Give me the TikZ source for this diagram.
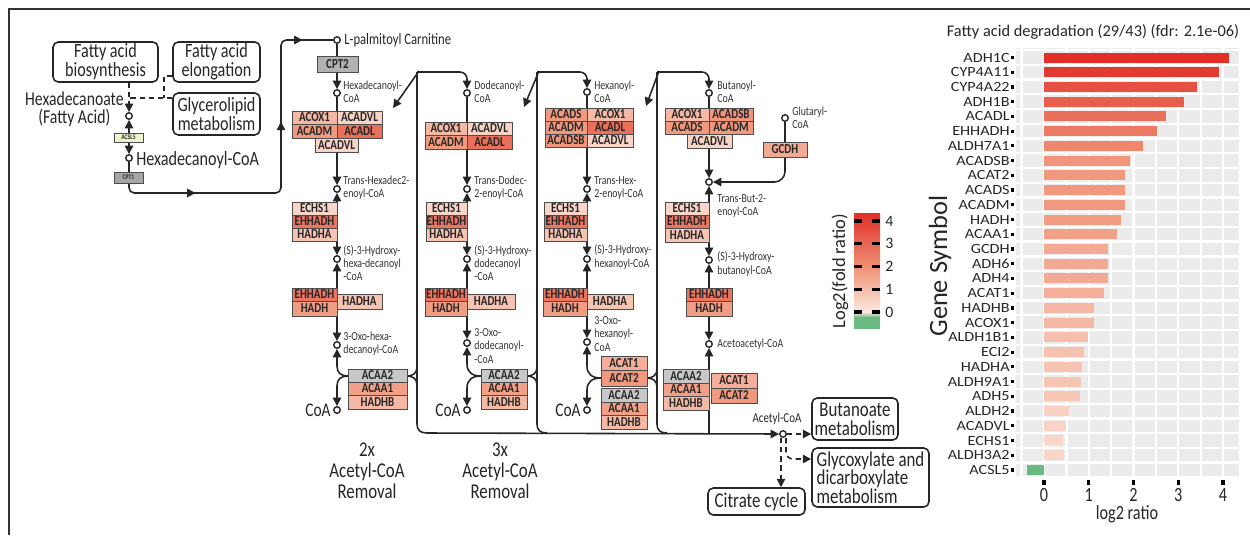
\documentclass[tikz,border=0pt]{standalone}
\usepackage{fontspec}
\setmainfont{Carlito}[FakeStretch=0.8]
\newfontfamily\wfont{Carlito}[FakeStretch=1.15]
\newfontfamily\nfont{Carlito}
\usetikzlibrary{arrows.meta,decorations.markings}
\newcommand\mkgc[2]{%
 \pgfmathsetmacro\mkta{min(#2,2)/2}%
 \pgfmathsetmacro\mktb{max(#2-2,0)/2.15}%
 \pgfmathtruncatemacro\mkR{252-12*\mkta-16*\mktb}%
 \pgfmathtruncatemacro\mkG{234-89*\mkta-97*\mktb}%
 \pgfmathtruncatemacro\mkB{224-106*\mkta-78*\mktb}%
 \definecolor{#1}{RGB}{\mkR,\mkG,\mkB}}
\mkgc{cACOX1}{1.12}
\mkgc{cACADVL}{0.49}
\mkgc{cACADM}{1.82}
\mkgc{cACADL}{2.73}
\mkgc{cACADS}{1.82}
\mkgc{cACADSB}{1.92}
\mkgc{cECHS1}{0.43}
\mkgc{cEHHADH}{2.6}
\mkgc{cHADHA}{0.84}
\mkgc{cHADH}{1.72}
\mkgc{cACAA1}{1.63}
\mkgc{cHADHB}{1.12}
\mkgc{cACAT1}{1.33}
\mkgc{cACAT2}{1.82}
\mkgc{cGCDH}{1.43}
\definecolor{hc}{RGB}{224,48,40}
\definecolor{mc}{RGB}{240,145,118}
\definecolor{lc}{RGB}{252,234,224}
\definecolor{grc}{RGB}{104,186,128}
\definecolor{acslc}{RGB}{238,243,206}
\definecolor{gry}{RGB}{200,200,200}
\newcommand\gb[7]{\node[gene,fill=#6,minimum width={(#4-#2)*0.02cm},minimum height={(#5-#3)*0.02cm}] (#1) at ({(#2+#4)/2},{(#3+#5)/2}) {#7};}
\begin{document}
\begin{tikzpicture}[x=0.02cm,y=-0.02cm,>={Triangle[length=4.8pt,width=4.8pt]},
 ln/.style={line width=0.9pt,draw=black!85},
 met/.style={circle,draw=black!85,fill=white,line width=0.8pt,inner sep=0pt,minimum size=0.13cm},
 mtxt/.style={anchor=west,align=left,inner sep=0pt,font=\fontsize{7}{7.6}\selectfont,text=black!80},
 gene/.style={draw=black!70,line width=0.55pt,inner sep=0pt,font=\bfseries\fontsize{7.8}{7.8}\selectfont,text=black!85},
 pbox/.style={draw=black!85,rounded corners=3pt,line width=0.9pt,fill=white,align=center,inner sep=1pt,text=black!85},
 big/.style={inner sep=0pt,text=black!85,font=\fontsize{11}{11}\selectfont},
 dsh/.style={ln,dash pattern=on 3pt off 2.2pt}]
\useasboundingbox (0,0) rectangle (1250,535);
\draw[line width=1.1pt,black!80] (9,535) -- (9,9) -- (1250,9);

% ---------- left part
\node[pbox,minimum width=2.1cm,minimum height=0.8cm,font=\fontsize{11.5}{9.8}\selectfont] (fab) at (105.5,62) {Fatty acid\\biosynthesis};
\node[pbox,minimum width=1.74cm,minimum height=0.8cm,font=\fontsize{11.5}{9.8}\selectfont] (fel) at (216.5,62) {Fatty acid\\elongation};
\node[pbox,minimum width=1.74cm,minimum height=0.84cm,font=\fontsize{11.5}{9.8}\selectfont] (gly) at (216.5,114) {Glycerolipid\\metabolism};
\node[met] (h0) at (129,116) {};
\node[met] (h1) at (129,158) {};
\node[big,align=center,anchor=east,font=\fontsize{11.2}{10.2}\selectfont] (h0t) at (124,109) {Hexadecanoate\\(Fatty Acid)};
\node[big,anchor=west,font=\fontsize{11.5}{11.5}\selectfont] (h1t) at (136,160) {Hexadecanoyl-CoA};
\coordinate (dj) at (129,98); \coordinate (ek) at (164,76); \coordinate (ej) at (164,98);
\draw[dsh,->] (fab.south -| h0) -- (h0);
\draw[dsh] (gly.west |- dj) -- (dj);
\draw[dsh] (fel.west |- ek) -- (ek) -- (ej);
\draw[ln,<->] (h0) -- (h1);
\coordinate (p1) at (129,193); \coordinate (p2) at (281,193); \coordinate (p3) at (281,40);
\node[met] (a0) at (337,40) {};
\draw[ln,rounded corners=3pt,postaction={decorate},decoration={markings,mark=at position 0.25 with {\arrow{>}},mark=at position 0.655 with {\arrow{>}},mark=at position 0.92 with {\arrow{>}}}] (h1) -- (p1) -- (p2) -- (p3) -- (a0);
\node[gene,fill=acslc,minimum width=0.58cm,minimum height=0.18cm,font=\bfseries\fontsize{4}{4}\selectfont] (acsl5) at (128.5,137.5) {ACSL5};
\node[gene,fill=black!35,minimum width=0.58cm,minimum height=0.22cm,font=\bfseries\fontsize{4}{4}\selectfont] (cpt1) at (128.5,177.5) {CPT1};

% ---------- metabolites
\node[big,anchor=west,font=\fontsize{9}{9}\selectfont] (a0t) at (344,40) {L-palmitoyl Carnitine};
\node[met] (a1) at (337,93) {};  \node[mtxt] (a1t) at (343,92) {Hexadecanoyl-\\CoA};
\node[met] (a2) at (337,189) {}; \node[mtxt] (a2t) at (343,188) {Trans-Hexadec2-\\enoyl-CoA};
\node[met] (a3) at (337,259) {}; \node[mtxt] (a3t) at (343,263) {(S)-3-Hydroxy-\\hexa-decanoyl\\-CoA};
\node[met] (a4) at (337,345) {}; \node[mtxt] (a4t) at (343,344) {3-Oxo-hexa-\\decanoyl-CoA};
\node[met] (a5) at (337,410) {}; \node[big,anchor=east] (a5t) at (331,410) {CoA};

\node[met] (d1) at (467,93) {};  \node[mtxt] (d1t) at (474,92) {Dodecanoyl-\\CoA};
\node[met] (d2) at (467,189) {}; \node[mtxt] (d2t) at (474,188) {Trans-Dodec-\\2-enoyl-CoA};
\node[met] (d3) at (467,259) {}; \node[mtxt] (d3t) at (474,263) {(S)-3-Hydroxy-\\dodecanoyl\\-CoA};
\node[met] (d4) at (467,343) {}; \node[mtxt] (d4t) at (474,346) {3-Oxo-\\dodecanoyl-\\-CoA};
\node[met] (d5) at (467,410) {}; \node[big,anchor=east] (d5t) at (461,410) {CoA};

\node[met] (e1) at (587,92) {};  \node[mtxt] (e1t) at (594,92) {Hexanoyl-\\CoA};
\node[met] (e2) at (587,189) {}; \node[mtxt] (e2t) at (594,188) {Trans-Hex-\\2-enoyl-CoA};
\node[met] (e3) at (587,259) {}; \node[mtxt] (e3t) at (594,257) {(S)-3-Hydroxy-\\hexanoyl-CoA};
\node[met] (e4) at (587,342) {}; \node[mtxt] (e4t) at (594,334) {3-Oxo-\\hexanoyl-\\CoA};
\node[met] (e5) at (587,410) {}; \node[big,anchor=east] (e5t) at (581,410) {CoA};

\node[met] (b1) at (709,93) {};  \node[mtxt] (b1t) at (717,92) {Butanoyl-\\CoA};
\node[met] (b2) at (709,182) {}; \node[mtxt] (b2t) at (717,206) {Trans-But-2-\\enoyl-CoA};
\node[met] (b3) at (709,260) {}; \node[mtxt] (b3t) at (717,264) {(S)-3-Hydroxy-\\butanoyl-CoA};
\node[met] (b4) at (709,344) {}; \node[mtxt] (b4t) at (717,344) {Acetoacetyl-CoA};
\node[met] (g0) at (785,118) {}; \node[mtxt] (g0t) at (792,118) {Glutaryl-\\CoA};

\node[met] (ac) at (783,434) {};
\node[big,font=\fontsize{7.8}{7.8}\selectfont] (act) at (777,419) {Acetyl-CoA};

\node[pbox,minimum width=1.72cm,minimum height=0.84cm,font=\fontsize{12}{10.8}\selectfont] (but) at (855,419) {Butanoate\\metabolism};
\node[pbox,align=left,minimum width=2.34cm,minimum height=1.18cm,font=\fontsize{12}{10.5}\selectfont] (glx) at (870.5,477.5) {Glycoxylate and\\dicarboxylate\\metabolism};
\node[pbox,minimum width=1.94cm,minimum height=0.54cm,font=\fontsize{12}{12}\selectfont] (cit) at (756.5,501.5) {Citrate cycle};

\node[big,align=center,font=\fontsize{12}{12}\selectfont] (rm2) at (367,471) {2x\\Acetyl-CoA\\Removal};
\node[big,align=center,font=\fontsize{12}{12}\selectfont] (rm3) at (500,471) {3x\\Acetyl-CoA\\Removal};

% ---------- reaction lines
\draw[ln,->] (a0) -- (a1);
\draw[ln,->] (a1) -- (a2);
\draw[ln,<->] (a2) -- (a3);
\draw[ln,<->] (a3) -- (a4);
\draw[ln,->] (d1) -- (d2);
\draw[ln,<->] (d2) -- (d3);
\draw[ln,<->] (d3) -- (d4);
\draw[ln,->] (e1) -- (e2);
\draw[ln,<->] (e2) -- (e3);
\draw[ln,<->] (e3) -- (e4);
\draw[ln,->] (b1) -- (b2);
\draw[ln,<->] (b2) -- (b3);
\draw[ln,<->] (b3) -- (b4);
\coordinate (b5) at (709,433);
\draw[ln,->] (b5) -- (b4);
\coordinate (gk) at (785,182);
\draw[ln,->,rounded corners=6pt] (g0) -- (gk) -- (b2);

% junctions
\coordinate (j1) at (348,376); \coordinate (k1) at (407,376);
\draw[ln,->] (j1) .. controls (341,376) and (337,373) .. (337,366) -- (a4);
\draw[ln,->] (j1) .. controls (341,376) and (337,379) .. (337,386) -- (a5);
\draw[ln] (k1) .. controls (413,376) and (417,373) .. (417,367);
\draw[ln] (k1) .. controls (413,376) and (417,379) .. (417,385);
\coordinate (j2) at (481,376); \coordinate (k2) at (527,376);
\draw[ln,->] (j2) .. controls (472,376) and (467,372) .. (467,364) -- (d4);
\draw[ln,->] (j2) .. controls (472,376) and (467,380) .. (467,388) -- (d5);
\draw[ln] (k2) .. controls (533,376) and (537,373) .. (537,367);
\draw[ln] (k2) .. controls (533,376) and (537,379) .. (537,385);
\coordinate (j3) at (601,378); \coordinate (k3) at (647,378);
\draw[ln,->] (j3) .. controls (592,378) and (587,374) .. (587,366) -- (e4);
\draw[ln,->] (j3) .. controls (592,378) and (587,382) .. (587,390) -- (e5);
\draw[ln] (k3) .. controls (653,378) and (657,375) .. (657,369);
\draw[ln] (k3) .. controls (653,378) and (657,381) .. (657,387);

% separators and connectors
\coordinate (s1t) at (417,72); \coordinate (s2t) at (537,72); \coordinate (s3t) at (657,72);
\draw[ln] (s1t) -- (417,424) .. controls (417,430) and (420,433) .. (427,433);
\draw[ln] (s2t) -- (537,424) .. controls (537,430) and (540,433) .. (547,433);
\draw[ln] (s3t) -- (657,424) .. controls (657,430) and (660,433) .. (667,433);
\coordinate (hz) at (427,433);
\draw[ln,->] (hz) -- (ac);
\draw[ln,->,rounded corners=4pt] (s1t) -- (467,72) -- (d1);
\draw[ln,->,rounded corners=4pt] (s2t) -- (587,72) -- (e1);
\draw[ln,->,rounded corners=4pt] (s3t) -- (709,72) -- (b1);
\coordinate (q1) at (419,71); \coordinate (r1) at (393,108);
\coordinate (q2) at (539,71); \coordinate (r2) at (524,107);
\coordinate (q3) at (659,71); \coordinate (r3) at (646,106);
\draw[ln,->] (q1) -- (r1);
\draw[ln,->] (q2) -- (r2);
\draw[ln,->] (q3) -- (r3);

% dashed outputs
\draw[dsh,->] (ac) -- (but.west |- ac);
\coordinate (acd1) at (781,438); \coordinate (acd2) at (786,438); \coordinate (glj) at (786,459);
\draw[dsh,->] (acd1) -- (acd1 |- cit.north);
\draw[dsh,->,rounded corners=4pt] (acd2) -- (glj) -- (glx.west |- glj);

% ---------- gene boxes
\gb{cpt2}{317}{56}{358}{72}{black!30}{CPT2}
\gb{a1g1}{292}{111}{337}{124}{cACOX1}{ACOX1}
\gb{a1g2}{337}{111}{382}{124}{cACADVL}{ACADVL}
\gb{a1g3}{292}{124}{337}{138}{cACADM}{ACADM}
\gb{a1g4}{337}{124}{382}{138}{cACADL}{ACADL}
\gb{a1g5}{315}{138}{358}{152}{cACADVL}{ACADVL}
\gb{a2g1}{292}{202}{337}{215}{cECHS1}{ECHS1}
\gb{a2g2}{292}{215}{337}{228}{cEHHADH}{EHHADH}
\gb{a2g3}{292}{228}{337}{241}{cHADHA}{HADHA}
\gb{a3g1}{292}{288}{337}{301}{cEHHADH}{EHHADH}
\gb{a3g2}{292}{301}{337}{316}{cHADH}{HADH}
\gb{a3g3}{337}{294}{382}{309}{cHADHA}{HADHA}
\gb{a4g1}{348}{369}{407}{382}{gry}{ACAA2}
\gb{a4g2}{348}{382}{407}{395}{cACAA1}{ACAA1}
\gb{a4g3}{348}{395}{407}{409}{cHADHB}{HADHB}

\gb{d1g1}{425}{122}{467}{135}{cACOX1}{ACOX1}
\gb{d1g2}{467}{122}{512}{135}{cACADVL}{ACADVL}
\gb{d1g3}{425}{135}{467}{149}{cACADM}{ACADM}
\gb{d1g4}{467}{135}{512}{149}{cACADL}{ACADL}
\gb{d2g1}{426}{202}{467}{215}{cECHS1}{ECHS1}
\gb{d2g2}{426}{215}{467}{228}{cEHHADH}{EHHADH}
\gb{d2g3}{426}{228}{467}{241}{cHADHA}{HADHA}
\gb{d3g1}{425}{288}{467}{301}{cEHHADH}{EHHADH}
\gb{d3g2}{425}{301}{467}{316}{cHADH}{HADH}
\gb{d3g3}{467}{294}{515}{309}{cHADHA}{HADHA}
\gb{d4g1}{481}{369}{527}{382}{gry}{ACAA2}
\gb{d4g2}{481}{382}{527}{395}{cACAA1}{ACAA1}
\gb{d4g3}{481}{395}{527}{409}{cHADHB}{HADHB}

\gb{e1g1}{545}{108}{587}{121}{cACADS}{ACADS}
\gb{e1g2}{587}{108}{633}{121}{cACOX1}{ACOX1}
\gb{e1g3}{545}{121}{587}{134}{cACADM}{ACADM}
\gb{e1g4}{587}{121}{633}{134}{cACADL}{ACADL}
\gb{e1g5}{545}{134}{587}{147}{cACADSB}{ACADSB}
\gb{e1g6}{587}{134}{633}{147}{cACADVL}{ACADVL}
\gb{e2g1}{544}{202}{587}{215}{cECHS1}{ECHS1}
\gb{e2g2}{544}{215}{587}{228}{cEHHADH}{EHHADH}
\gb{e2g3}{544}{228}{587}{241}{cHADHA}{HADHA}
\gb{e3g1}{543}{288}{587}{301}{cEHHADH}{EHHADH}
\gb{e3g2}{543}{301}{587}{316}{cHADH}{HADH}
\gb{e3g3}{587}{294}{633}{309}{cHADHA}{HADHA}
\gb{e4g1}{601}{356}{647}{370}{cACAT1}{ACAT1}
\gb{e4g2}{601}{370}{647}{386}{cACAT2}{ACAT2}
\gb{e4g3}{601}{388}{647}{402}{gry}{ACAA2}
\gb{e4g4}{601}{402}{647}{415}{cACAA1}{ACAA1}
\gb{e4g5}{601}{415}{647}{429}{cHADHB}{HADHB}

\gb{b1g1}{665}{108}{709}{121}{cACOX1}{ACOX1}
\gb{b1g2}{709}{108}{753}{121}{cACADSB}{ACADSB}
\gb{b1g3}{665}{121}{709}{134}{cACADS}{ACADS}
\gb{b1g4}{709}{121}{753}{134}{cACADM}{ACADM}
\gb{b1g5}{687}{134}{732}{148}{cACADVL}{ACADVL}
\gb{gcdh}{763}{142}{807}{157}{cGCDH}{GCDH}
\gb{b2g1}{665}{202}{709}{215}{cECHS1}{ECHS1}
\gb{b2g2}{665}{215}{709}{228}{cEHHADH}{EHHADH}
\gb{b2g3}{665}{228}{709}{242}{cHADHA}{HADHA}
\gb{b3g1}{686}{288}{732}{301}{cEHHADH}{EHHADH}
\gb{b3g2}{686}{301}{732}{316}{cHADH}{HADH}
\gb{b4g1}{663}{369}{709}{383}{gry}{ACAA2}
\gb{b4g2}{663}{383}{709}{396}{cACAA1}{ACAA1}
\gb{b4g3}{663}{396}{709}{410}{cHADHB}{HADHB}
\gb{b4g4}{711}{373}{757}{388}{cACAT1}{ACAT1}
\gb{b4g5}{711}{388}{757}{403}{cACAT2}{ACAT2}

% ---------- legend
\shade[top color=hc,bottom color=mc] (854,213) rectangle (880,267.5);
\shade[top color=mc,bottom color=lc] (854,267) rectangle (880,312.5);
\shade[top color=lc,bottom color=grc] (854,312) rectangle (880,317.5);
\fill[grc] (854,317) rectangle (880,329);
\foreach \v in {0,...,4}{
 \fill[black] (854,{312-22.75*\v-1.6}) rectangle (862,{312-22.75*\v+1.6});
 \fill[black] (872,{312-22.75*\v-1.6}) rectangle (880,{312-22.75*\v+1.6});
 \node[anchor=west,inner sep=0pt,text=black!85,font=\nfont\fontsize{9}{9}\selectfont] (lg\v) at (885,{312-22.75*\v}) {\v};
}
\node[rotate=90,inner sep=0pt,text=black!85,font=\nfont\fontsize{10.5}{10.5}\selectfont] (lgt) at (840,271) {Log2(fold ratio)};

% ---------- bar chart
\node[inner sep=0pt,text=black!85,font=\nfont\fontsize{9.3}{9.3}\selectfont] (ttl) at (1093,32) {Fatty acid degradation (29/43) (fdr: 2.1e-06)};
\node[rotate=90,inner sep=0pt,text=black!85,font=\nfont\fontsize{15}{15}\selectfont] (gsy) at (940,266) {Gene Symbol};
\fill[black!8] (1016,48) rectangle (1239,478);
\foreach \k in {0,...,29} \draw[white,line width=1.3pt] (1016,{50.14+\k*14.73}) -- (1239,{50.14+\k*14.73});
\foreach \j in {-1,...,8} \draw[white,line width=1.3pt] ({1044+22.375*\j},48) -- ({1044+22.375*\j},478);
\foreach \g/\v [count=\i from 0] in {ADH1C/4.13,CYP4A11/3.91,CYP4A22/3.42,ADH1B/3.13,ACADL/2.73,EHHADH/2.52,ALDH7A1/2.22,ACADSB/1.92,ACAT2/1.82,ACADS/1.82,ACADM/1.82,HADH/1.72,ACAA1/1.63,GCDH/1.43,ADH6/1.43,ADH4/1.43,ACAT1/1.33,HADHB/1.12,ACOX1/1.12,ALDH1B1/0.98,ECI2/0.90,HADHA/0.84,ALDH9A1/0.82,ADH5/0.80,ALDH2/0.56,ACADVL/0.49,ECHS1/0.43,ALDH3A2/0.45,ACSL5/-0.38}{
 \pgfmathsetmacro\yc{57.5+\i*14.73}
 \mkgc{barc}{\v}
 \fill[barc] (1044,{\yc-5}) rectangle ({1044+44.75*\v},{\yc+5});
 \node[anchor=east,inner sep=0pt,text=black!85,font=\wfont\fontsize{8}{8}\selectfont] (bl\i) at (1010,\yc) {\g};
 \fill[black] (1011,{\yc-1.6}) rectangle (1014.2,{\yc+1.6});
}
\fill[grc] ({1044-44.75*0.38},{57.5+28*14.73-5}) rectangle (1044,{57.5+28*14.73+5});
\foreach \t in {0,...,4}{
 \fill[black] ({1044+44.75*\t-1.6},480) rectangle ({1044+44.75*\t+1.6},484.5);
 \node[inner sep=0pt,text=black!85,font=\fontsize{11.5}{11.5}\selectfont] (ax\t) at ({1044+44.75*\t},495) {\t};
}
\node[inner sep=0pt,text=black!85,font=\fontsize{11.5}{11.5}\selectfont] (axt) at (1127,514) {log2 ratio};
\end{tikzpicture}
\end{document}
